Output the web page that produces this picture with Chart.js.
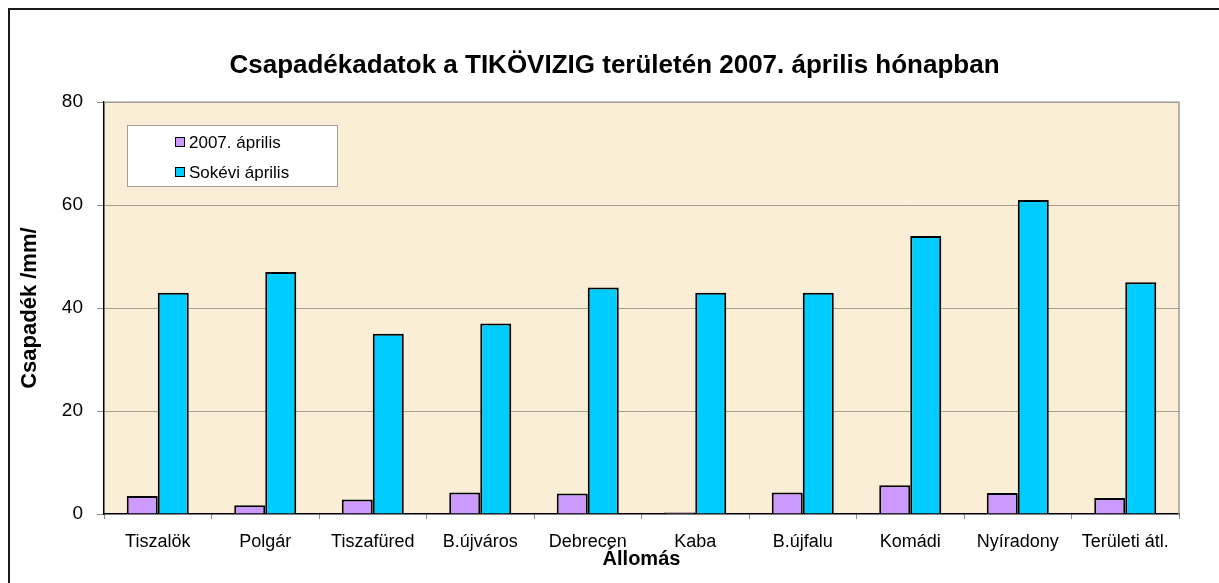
<!DOCTYPE html>
<html>
<head>
<meta charset="utf-8">
<script src="https://cdn.jsdelivr.net/npm/chart.js@4.4.1/dist/chart.umd.min.js"></script>
<style>
  html, body { margin: 0; padding: 0; background: #ffffff; overflow: hidden; }
  #frame { position: absolute; left: 8px; top: 8px; width: 2000px; height: 2000px; border: 2px solid #1a1a1a; box-sizing: border-box; }
  #wrap { position: absolute; left: 0; top: 0; width: 1219px; height: 583px; }
</style>
</head>
<body>
<div id="frame"></div>
<div id="wrap"><canvas id="c" width="1219" height="583"></canvas></div>
<script>
const categories = ['Tiszalök', 'Polgár', 'Tiszafüred', 'B.újváros', 'Debrecen', 'Kaba', 'B.újfalu', 'Komádi', 'Nyíradony', 'Területi átl.'];
const april2007 = [3.5, 1.7, 2.8, 4.2, 4.0, 0.3, 4.2, 5.6, 4.1, 3.1];
const longTermApril = [43, 47, 35, 37, 44, 43, 43, 54, 61, 45];
const seriesNames = ['2007. április', 'Sokévi április'];
const yTicks = [0, 20, 40, 60, 80];
const chartTitle = 'Csapadékadatok a TIKÖVIZIG területén 2007. április hónapban';
const xTitle = 'Állomás';
const yTitle = 'Csapadék /mm/';

const FONT = "'Liberation Sans', Arial, Helvetica, sans-serif";

const plotFrame = {
  id: 'plotFrame',
  beforeDraw(chart) {
    const {ctx, chartArea: a} = chart;
    ctx.save();
    ctx.fillStyle = '#FBEED6';
    ctx.fillRect(a.left, a.top, a.right - a.left, a.bottom - a.top);
    ctx.restore();
  },
  afterDatasetsDraw(chart) {
    const {ctx, chartArea: a} = chart;
    ctx.save();
    ctx.strokeStyle = '#9a9a9a';
    ctx.lineWidth = 1.5;
    ctx.beginPath();
    ctx.moveTo(a.left, a.top);
    ctx.lineTo(a.right, a.top);
    ctx.lineTo(a.right, a.bottom);
    ctx.stroke();
    ctx.restore();
  }
};

const boxLegend = {
  id: 'boxLegend',
  afterDraw(chart) {
    const {ctx} = chart;
    const x = 127, y = 125, w = 210, h = 61;
    ctx.save();
    ctx.fillStyle = '#ffffff';
    ctx.fillRect(x, y, w, h);
    ctx.strokeStyle = '#a0a0a0';
    ctx.lineWidth = 1;
    ctx.strokeRect(x + 0.5, y + 0.5, w, h);
    ctx.font = '17px ' + FONT;
    ctx.textBaseline = 'middle';
    ctx.textAlign = 'left';
    chart.data.datasets.forEach((ds, i) => {
      const cy = 142 + i * 30;
      ctx.fillStyle = ds.backgroundColor;
      ctx.fillRect(175, cy - 5, 9, 9);
      ctx.strokeStyle = '#000';
      ctx.lineWidth = 1;
      ctx.strokeRect(175.5, cy - 4.5, 9, 9);
      ctx.fillStyle = '#000';
      ctx.fillText(ds.label, 189, cy + 1);
    });
    ctx.restore();
  }
};

new Chart(document.getElementById('c'), {
  type: 'bar',
  data: {
    labels: categories,
    datasets: [
      { label: seriesNames[0], data: april2007, backgroundColor: '#CC99FF', borderColor: '#000000', borderWidth: 2, borderSkipped: 'bottom' },
      { label: seriesNames[1], data: longTermApril, backgroundColor: '#00CCFF', borderColor: '#000000', borderWidth: 2, borderSkipped: 'bottom' }
    ]
  },
  options: {
    responsive: false,
    animation: false,
    devicePixelRatio: 1,
    layout: { padding: { left: 10, right: 0, top: 0, bottom: 0 } },
    datasets: { bar: { categoryPercentage: 0.577, barPercentage: 1.0 } },
    plugins: {
      legend: { display: false },
      tooltip: { enabled: false },
      title: {
        display: true,
        text: chartTitle,
        color: '#000',
        font: { family: FONT, size: 26, weight: 'bold' },
        padding: { top: 50, bottom: 21 }
      }
    },
    scales: {
      x: {
        offset: true,
        grid: { offset: true, drawOnChartArea: false, drawTicks: true, tickLength: 5, tickColor: '#8a8a8a' },
        border: { display: true, color: '#000', width: 1.5 },
        ticks: { color: '#000', font: { family: FONT, size: 18 }, padding: 12, maxRotation: 0, autoSkip: false },
        title: { display: true, text: xTitle, color: '#000', font: { family: FONT, size: 20, weight: 'bold' }, padding: { top: 0, bottom: 12 } },
        afterFit(scale) { scale.height = 69; }
      },
      y: {
        min: 0, max: 80,
        afterBuildTicks(scale) { scale.ticks = yTicks.map(v => ({ value: v })); },
        grid: {
          color: ctx => (ctx.tick && ctx.tick.value === 0) ? 'rgba(0,0,0,0)' : '#A9A08C',
          lineWidth: 1,
          drawTicks: true, tickLength: 7, tickColor: '#8a8a8a'
        },
        border: { display: true, color: '#000', width: 1.5 },
        ticks: { color: '#000', font: { family: FONT, size: 19 }, padding: 14 },
        title: { display: true, text: yTitle, color: '#000', font: { family: FONT, size: 22, weight: 'bold' }, padding: { top: 7, bottom: 0 } },
        afterFit(scale) { scale.width = 94; }
      },
      yRight: {
        type: 'linear',
        position: 'right',
        min: 0, max: 80,
        grid: { drawOnChartArea: false, drawTicks: false },
        border: { display: false },
        ticks: { display: false },
        afterFit(scale) { scale.width = 40; }
      }
    }
  },
  plugins: [plotFrame, boxLegend]
});
</script>
</body>
</html>
